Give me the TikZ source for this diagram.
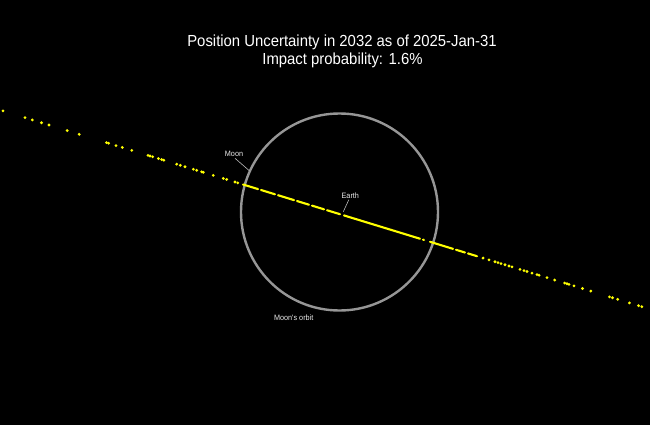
\documentclass[tikz,border=0pt]{standalone}
\usepackage{fontspec}
\setmainfont{Liberation Sans}
\newfontfamily\titlefont[FakeStretch=0.93]{Liberation Sans}
\definecolor{bg}{RGB}{0,0,0}
\definecolor{orbitgray}{RGB}{150,150,150}
\definecolor{trackyellow}{RGB}{255,255,0}
\definecolor{labelwhite}{RGB}{235,235,235}
\tikzset{
  titletext/.style={text=white, font=\titlefont\fontsize{16}{18.3}\selectfont, align=center, inner sep=0pt},
  smalllabel/.style={text=labelwhite, font=\titlefont\fontsize{7.8}{9}\selectfont, inner sep=0pt, anchor=base},
  leader/.style={draw=labelwhite!80!black, line width=0.6pt},
  orbit/.style={draw=orbitgray, line width=2.4pt},
  trackdot/.style={fill=trackyellow},
  trackseg/.style={draw=trackyellow, line width=2.1pt, line cap=round},
}
\begin{document}
\begin{tikzpicture}[x=1pt,y=-1pt]
\fill[bg] (0,0) rectangle (650,425);
\useasboundingbox (0,0) rectangle (650,425);
% title
\node[titletext, anchor=base] (title1) at (342,46.5) {Position Uncertainty in 2032 as of 2025-Jan-31};
\node[titletext, anchor=base] (title2) at (342.5,64.8) {Impact probability: 1.6\%};
% orbit
\node[orbit, circle, minimum size=197pt, inner sep=0pt] (orbitc) at (339.5,212) {};
% track dots
\foreach \x in {3,25,32.3,41.5,49,67.2,79.2,106.5,108.6,116,122.3,131.8,148,150,152.6,158.4,161.7,163.8,176.7,180.3,185,193.3,196.7,201.7,203.3,213.3,223.3,226.7,235,237.7,
  483,489,495,498,501,505,509,512,520,524,527,532,537,539,547,554.7,564.7,567,569,574,582.5,590.8,609.5,612.5,617.7,629.4,638.5,641.8}
  \fill[trackdot] (\x,{110+0.3065*\x}) circle (1.55);
\foreach \a/\b in {243/258,261/275,278/294,297/309,312/324,327/340,344/420,423/424,430/453,456/465,468/477}
  \draw[trackseg] (\a,{110+0.3065*\a}) -- (\b,{110+0.3065*\b});
% labels
\coordinate (moonpt) at (249.3,170.7);
\coordinate (earthpt) at (343.3,211.7);
\node[smalllabel] (moon) at (234,156.5) {Moon};
\node[smalllabel] (earth) at (350.3,198) {Earth};
\node[smalllabel] (orbitlabel) at (293.7,320.5) {Moon's orbit};
\draw[leader] ([xshift=1pt,yshift=-1.5pt]moon.south) -- (moonpt);
\draw[leader] ([xshift=-1.5pt,yshift=-1.5pt]earth.south) -- (earthpt);
\end{tikzpicture}
\end{document}
